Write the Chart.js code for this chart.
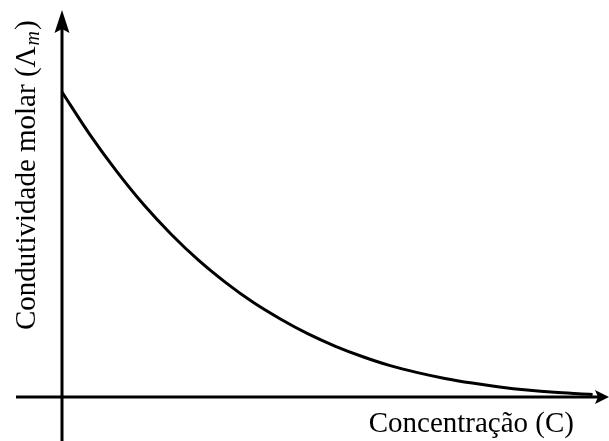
<!DOCTYPE html>
<html>
<head>
<meta charset="utf-8">
<script src="https://cdn.jsdelivr.net/npm/chart.js@4"></script>
<style>
  html, body { margin: 0; padding: 0; background: #fff; }
  #wrap { width: 609px; height: 441px; }
</style>
</head>
<body>
<div id="wrap"><canvas id="myChart"></canvas></div>
<script>
(function () {
  'use strict'

  // concentration (arbitrary units) and molar conductivity
  const concentration = [0, 0.5, 1, 1.5, 2, 2.5, 3, 3.5, 4, 4.5, 5, 5.5, 6, 6.5, 7, 7.5, 8, 8.5, 9, 9.5, 9.7];
  const conductivity = [7.88, 6.80, 5.83, 4.96, 4.20, 3.53, 2.95, 2.44, 2.01, 1.63, 1.31, 1.04, 0.81, 0.63, 0.48, 0.36, 0.26, 0.18, 0.12, 0.08, 0.065];
  const xTitle = 'Concentração (C)';
  const yTitle = ['Condutividade molar (', 'Λ', 'm', ')'];

  const points = concentration.map((c, i) => ({ x: c, y: conductivity[i] }));

  // axes with arrowheads, drawn at the zero of each scale
  const arrowAxes = {
    id: 'arrowAxes',
    afterDraw(chart) {
      const c = chart.ctx;
      const xs = chart.scales.x, ys = chart.scales.y;
      const x0 = xs.getPixelForValue(0);
      const y0 = ys.getPixelForValue(0);
      const xEnd = xs.getPixelForValue(xs.max);
      const yEnd = ys.getPixelForValue(ys.max);
      c.save();
      c.strokeStyle = '#000';
      c.fillStyle = '#000';
      c.lineWidth = 3;
      c.beginPath();
      c.moveTo(16, y0);
      c.lineTo(xEnd - 8, y0);
      c.moveTo(x0, chart.height);
      c.lineTo(x0, yEnd + 14);
      c.stroke();
      // x arrow
      c.beginPath();
      c.moveTo(xEnd, y0);
      c.lineTo(xEnd - 14, y0 - 7);
      c.lineTo(xEnd - 11, y0);
      c.lineTo(xEnd - 14, y0 + 7);
      c.closePath();
      c.fill();
      // y arrow
      c.beginPath();
      c.moveTo(x0, yEnd);
      c.lineTo(x0 - 7.5, yEnd + 23);
      c.lineTo(x0, yEnd + 19);
      c.lineTo(x0 + 7.5, yEnd + 23);
      c.closePath();
      c.fill();

      // titles
      c.font = '29px "Liberation Serif", "Times New Roman", serif';
      c.textBaseline = 'alphabetic';
      c.textAlign = 'right';
      c.fillText(xTitle, 574, 432);

      c.translate(35, 330);
      c.rotate(-Math.PI / 2);
      c.textAlign = 'left';
      let pos = 0;
      c.fillText(yTitle[0], pos, 0);
      pos += c.measureText(yTitle[0]).width;
      c.fillText(yTitle[1], pos, 0);
      pos += c.measureText(yTitle[1]).width;
      c.font = 'italic 20px "Liberation Serif", "Times New Roman", serif';
      c.fillText(yTitle[2], pos + 1, 4);
      pos += c.measureText(yTitle[2]).width + 2;
      c.font = '29px "Liberation Serif", "Times New Roman", serif';
      c.fillText(yTitle[3], pos, 0);
      c.restore();
    }
  };

  var ctx = document.getElementById('myChart');
  new Chart(ctx, {
    type: 'line',
    data: {
      datasets: [{
        data: points,
        borderColor: '#000',
        borderWidth: 3,
        pointRadius: 0,
        cubicInterpolationMode: 'monotone',
        fill: false,
        clip: false
      }]
    },
    options: {
      responsive: true,
      maintainAspectRatio: false,
      animation: false,
      layout: { padding: { left: 62, right: 0, top: 10, bottom: 44 } },
      plugins: {
        legend: { display: false },
        tooltip: { enabled: false }
      },
      scales: {
        x: { type: 'linear', min: 0, max: 10, display: false },
        y: { type: 'linear', min: 0, max: 10, display: false }
      }
    },
    plugins: [arrowAxes]
  });
})()
</script>
</body>
</html>
